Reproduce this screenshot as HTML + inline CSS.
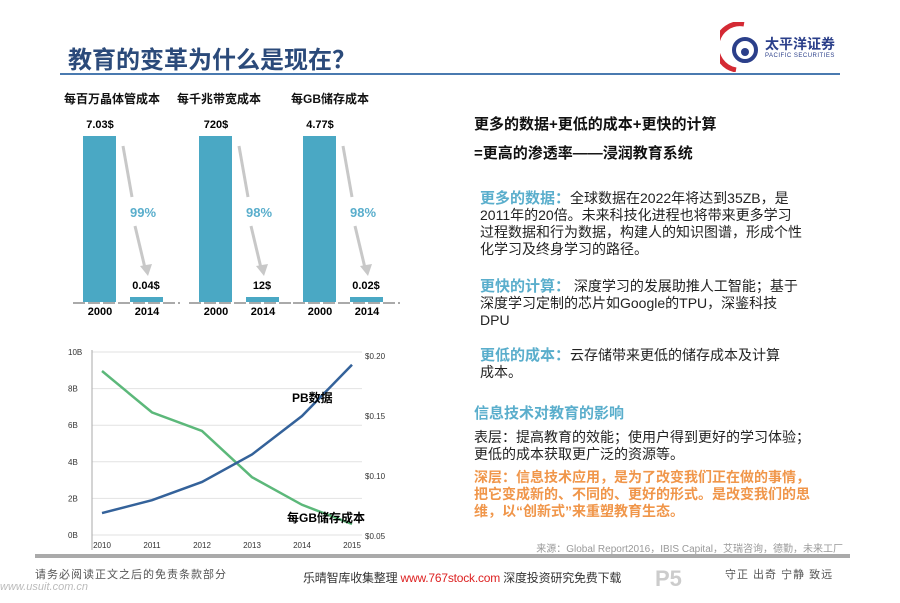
<!DOCTYPE html>
<html><head><meta charset="utf-8"><style>
body{margin:0;width:900px;height:603px;background:#fff;position:relative;overflow:hidden;font-family:"Liberation Sans","Noto Sans CJK SC",sans-serif}
.a{position:absolute;white-space:nowrap}
.t{font-size:14px;line-height:17px;color:#222;position:absolute;width:322px;white-space:normal}
.h{color:#5aaecc;font-weight:bold;font-size:15px}
</style></head><body>
<div class="a" style="left:68px;top:40px;font-size:24px;font-weight:bold;color:#2b4a7a">教育的变革为什么是现在？</div>
<div class="a" style="left:60px;top:73px;width:780px;height:2px;background:#4a7ab0"></div>
<div class="a" style="left:720px;top:22px;width:124px;height:50px">
<svg width="44" height="50"><path d="M24 2 A22 22 0 0 0 16 48" stroke="#d42a34" stroke-width="5" fill="none"/><circle cx="25" cy="28" r="11" stroke="#2b3f8a" stroke-width="4" fill="none"/><circle cx="25" cy="30" r="4" fill="#2b3f8a"/></svg>
<div class="a" style="left:45px;top:12px;font-size:14px;font-weight:bold;color:#2b3f8a">太平洋证券</div>
<div class="a" style="left:45px;top:31px;font-size:6px;color:#2b3f8a;letter-spacing:0.5px">PACIFIC SECURITIES</div>
</div>

<svg class="a" style="left:0;top:80px" width="460" height="240" id="bars"></svg>

<svg class="a" style="left:0;top:340px" width="460" height="215" id="lines"></svg>
<div class="a" style="left:35px;top:554px;width:815px;height:4px;background:#aaa"></div>

<div class="a" style="left:474px;top:110px;font-size:15px;font-weight:bold;line-height:29px;color:#111">更多的数据+更低的成本+更快的计算<br>=更高的渗透率——浸润教育系统</div>
<div class="t" style="left:480px;top:190px"><span class="h">更多的数据：</span>全球数据在2022年将达到35ZB，是2011年的20倍。未来科技化进程也将带来更多学习过程数据和行为数据，构建人的知识图谱，形成个性化学习及终身学习的路径。</div>
<div class="t" style="left:480px;top:278px"><span class="h">更快的计算：</span> 深度学习的发展助推人工智能；基于深度学习定制的芯片如Google的TPU，深鉴科技DPU</div>
<div class="t" style="left:480px;top:347px;width:300px"><span class="h">更低的成本：</span>云存储带来更低的储存成本及计算成本。</div>
<div class="a h" style="left:474px;top:402px">信息技术对教育的影响</div>
<div class="t" style="left:474px;top:429px;width:345px">表层：提高教育的效能；使用户得到更好的学习体验；更低的成本获取更广泛的资源等。</div>
<div class="t" style="left:474px;top:469px;width:345px;color:#f0964a;font-weight:bold">深层：信息技术应用，是为了改变我们正在做的事情，把它变成新的、不同的、更好的形式。是改变我们的思维，以“创新式”来重塑教育生态。</div>
<div class="a" style="right:57px;top:540px;font-size:10px;color:#999">来源：Global Report2016，IBIS Capital，艾瑞咨询，德勤，未来工厂</div>
<div class="a" style="left:35px;top:566px;font-size:11px;color:#555;letter-spacing:1px">请务必阅读正文之后的免责条款部分</div>
<div class="a" style="left:0px;top:581px;font-size:11px;color:#bbb;font-style:italic">www.usuit.com.cn</div>
<div class="a" style="left:303px;top:569px;font-size:12px;letter-spacing:-0.2px;color:#333">乐晴智库收集整理 <span style="color:#d22">www.767stock.com</span> 深度投资研究免费下载</div>
<div class="a" style="left:655px;top:566px;font-size:22px;color:#ccc;font-weight:bold">P5</div>
<div class="a" style="left:725px;top:566px;font-size:11px;color:#555;letter-spacing:1px">守正 出奇 宁静 致远</div>

<script>
const groups=["每百万晶体管成本","每千兆带宽成本","每GB储存成本"];
const years=["2000","2014"];
const startVals=[7.03,720,4.77];
const endVals=[0.04,12,0.02];
const startLabels=["7.03$","720$","4.77$"];
const endLabels=["0.04$","12$","0.02$"];
const drops=["99%","98%","98%"];
const NS="http://www.w3.org/2000/svg";
function mk(p,t,a){const e=document.createElementNS(NS,t);for(const k in a)e.setAttribute(k,a[k]);p.appendChild(e);return e;}
const B=document.getElementById('bars');
const gx=[83,199,303], tc=[112,219,330], base=222, maxH=166;
groups.forEach((g,i)=>{
 const x=gx[i];
 const sy=v=>maxH*v/startVals[i];
 let t=mk(B,'text',{x:tc[i],y:23,'font-size':12,'font-weight':'bold','text-anchor':'middle',fill:'#111'});t.textContent=g;
 
 
 mk(B,'line',{x1:x-10,y1:base+1,x2:x+97,y2:base+1,stroke:'#555','stroke-width':1,'stroke-dasharray':'12 3'});
 const h1=sy(startVals[i]),h2=Math.max(sy(endVals[i]),5);
 let r=mk(B,'rect',{x:x,y:base-h1,width:33,height:h1,fill:'#4aa8c4'});
 
 
 r=mk(B,'rect',{x:x+47,y:base-h2,width:33,height:h2,fill:'#4aa8c4'});
 
 
 t=mk(B,'text',{x:x+17,y:base-h1-8,'font-size':11,'font-weight':'bold','text-anchor':'middle'});t.textContent=startLabels[i];
 t=mk(B,'text',{x:x+63,y:base-h2-8,'font-size':11,'font-weight':'bold','text-anchor':'middle'});t.textContent=endLabels[i];
 years.forEach((y,j)=>{t=mk(B,'text',{x:x+17+j*47,y:base+13,'font-size':11,'font-weight':'bold','text-anchor':'middle'});t.textContent=y;});
 const ax=x+40;
 mk(B,'line',{x1:ax,y1:66,x2:ax+9,y2:117,stroke:'#c8c8c8','stroke-width':3});
 mk(B,'line',{x1:ax+12,y1:146,x2:ax+22,y2:188,stroke:'#c8c8c8','stroke-width':3});
 mk(B,'polygon',{points:`${ax+17},186 ${ax+29},184 ${ax+25},196`,fill:'#c8c8c8'});
 t=mk(B,'text',{x:ax+20,y:137,'font-size':13,'font-weight':'bold','text-anchor':'middle',fill:'#5aaecc'});t.textContent=drops[i];
 
 
});
const lyears=["2010","2011","2012","2013","2014","2015"];
const pbData=[1.2,1.9,2.9,4.4,6.5,9.3];
const costData=[0.1875,0.153,0.1375,0.099,0.076,0.06];
const leftTicks=["0B","2B","4B","6B","8B","10B"];
const rightTicks=["$0.05","$0.10","$0.15","$0.20"];
const rightVals=[0.05,0.10,0.15,0.20];
const L=document.getElementById('lines');
const X=i=>102+i*50, YL=v=>195-v*18.3, YR=v=>196-(v-0.05)/0.15*180;
leftTicks.forEach((s,i)=>{const y=YL(i*2);mk(L,'line',{x1:92,y1:y,x2:362,y2:y,stroke:'#e2e2e2'});let t=mk(L,'text',{x:68,y:y+3,'font-size':8,fill:'#333'});t.textContent=s;});
rightTicks.forEach((s,i)=>{let t=mk(L,'text',{x:365,y:YR(rightVals[i])+3,'font-size':8,fill:'#333'});t.textContent=s;});
mk(L,'line',{x1:92,y1:10,x2:92,y2:210,stroke:'#aaa'});
lyears.forEach((s,i)=>{let t=mk(L,'text',{x:X(i),y:208,'font-size':8,'text-anchor':'middle',fill:'#333'});t.textContent=s;});
let p=mk(L,'polyline',{points:costData.map((v,i)=>X(i)+','+YR(v)).join(' '),fill:'none',stroke:'#5cb87a','stroke-width':2.5});


p=mk(L,'polyline',{points:pbData.map((v,i)=>X(i)+','+YL(v)).join(' '),fill:'none',stroke:'#34629a','stroke-width':2.5});


let t=mk(L,'text',{x:292,y:62,'font-size':12,'font-weight':'bold'});t.textContent='PB数据';


t=mk(L,'text',{x:287,y:182,'font-size':12,'font-weight':'bold'});t.textContent='每GB储存成本';


</script>
</body></html>
